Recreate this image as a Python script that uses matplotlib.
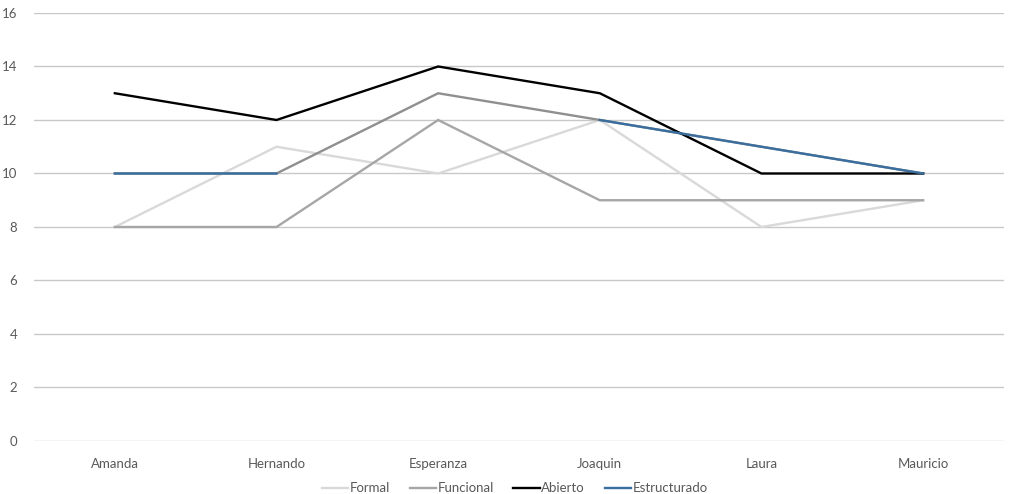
import matplotlib
matplotlib.use("Agg")
import matplotlib.pyplot as plt
import numpy as np

# Data
names = ["Amanda", "Hernando", "Esperanza", "Joaquin", "Laura", "Mauricio"]
formal = [8, 11, 10, 12, 8, 9]
funcional = [8, 8, 12, 9, 9, 9]
abierto = [13, 12, 14, 13, 10, 10]
estructurado = [10, 10, np.nan, 12, 11, 10]
# grey trace that runs under the blue one (not in the legend)
extra = [10, 10, 13, 12, 11, 10]

plt.rcParams["font.family"] = ["Lato", "DejaVu Sans"]

fig = plt.figure(figsize=(10.09, 4.94), dpi=100)
ax = fig.add_axes([0.0337, 0.1073, 0.9613, 0.8664])

x = np.arange(len(names))
lw = 1.7
ax.plot(x, formal, color="#d9d9d9", lw=lw, label="Formal", solid_joinstyle="miter")
ax.plot(x, funcional, color="#a6a6a6", lw=lw, label="Funcional", solid_joinstyle="miter")
ax.plot(x, extra, color="#8f8f8f", lw=lw, label="_nolegend_", solid_joinstyle="miter")
ax.plot(x, abierto, color="#000000", lw=lw, label="Abierto", solid_joinstyle="miter")
ax.plot(x, estructurado, color="#3a6e9e", lw=lw, label="Estructurado", solid_joinstyle="miter")

ax.set_xlim(-0.5, len(names) - 0.5)
ax.set_ylim(0, 16)
ax.set_yticks(range(0, 17, 2))
ax.set_xticks(x)
ax.set_xticklabels(names)
ax.tick_params(axis="both", length=0, labelsize=9.5, colors="#595959")
ax.tick_params(axis="x", pad=12)
ax.tick_params(axis="y", pad=12)
ax.grid(axis="y", color="#c8c8c8", lw=1)
ax.set_axisbelow(True)
for s in ax.spines.values():
    s.set_visible(False)

leg = fig.legend(loc="lower center", ncol=4, frameon=False, fontsize=9.5,
                 bbox_to_anchor=(0.51, -0.025), handlelength=2.0, handletextpad=0.1,
                 columnspacing=1.5)
for t in leg.get_texts():
    t.set_color("#595959")

fig.savefig("out.png", dpi=100)
